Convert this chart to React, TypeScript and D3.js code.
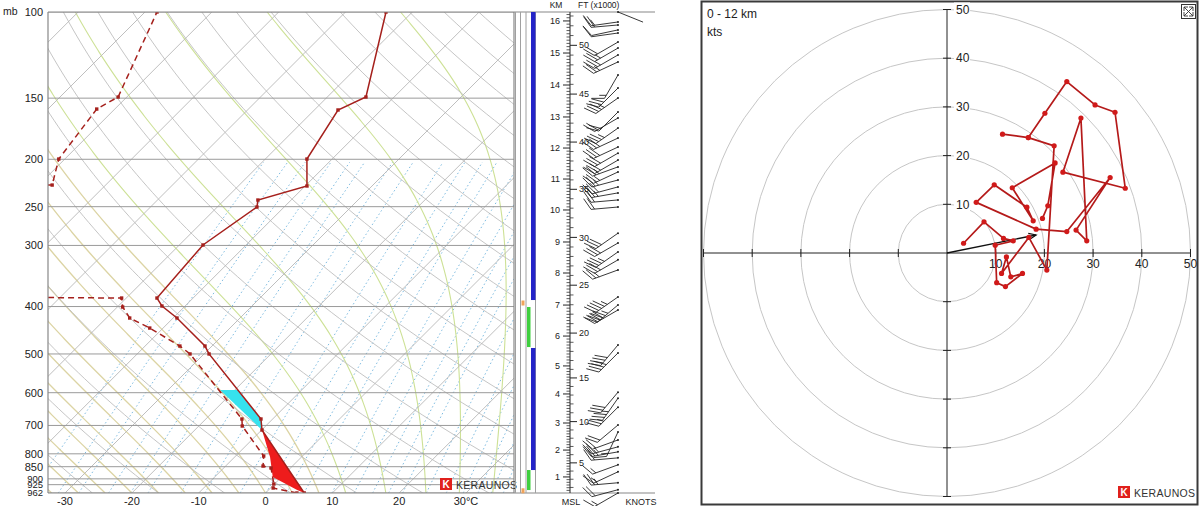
import React from 'react';
import * as d3 from 'd3';

const SVG_W = 1200, SVG_H = 506;

// ================= DATA =================
// Skew-T axes
const pressureLevels = [100, 150, 200, 250, 300, 400, 500, 600, 700, 800, 850, 900, 925, 962];
const tempTickValues = [-30, -20, -10, 0, 10, 20, 30];

// Environmental temperature profile (mb, °C)
const tempPressure = [962, 715.2, 679.1, 500, 481.7, 422.2, 399.0, 384.3, 299.4, 250.4, 242.3, 226.8, 199.8, 158.6, 149.2, 100];
const tempValues = [5.8, -9.95, -11.75, -29.25, -31.05, -39.43, -43.47, -45.41, -46.46, -44.07, -44.97, -39.73, -43.77, -46.46, -44.22, -53.94];

// Dewpoint profile (mb, °C)
const dewPressure = [962, 939.7, 922.2, 855.4, 847.4, 808.4, 701.9, 679.1, 500, 481.7, 442.6, 422.2, 400.9, 384.3, 381.0, 229.0, 225.8, 199.8, 157.9, 149.2, 100];
const dewValues = [4.7, 0.4, -0.1, -2.9, -4.4, -5.8, -13.5, -14.6, -32.1, -34.8, -42.0, -46.5, -49.2, -50.7, -95, -105, -78.0, -80.9, -82.7, -81.3, -88.2];

// Lower edge of shaded areas (mb, °C)
const parcelPressure = [962, 948.7, 892.4, 812.2, 715.2, 592.5];
const parcelValues = [5.8, 4.3, -1.3, -4.7, -9.95, -22.2];

// Side strip layers (mb ranges)
const blueLayers = [[100, 387.9], [486.2, 863.4]];
const greenLayers = [[400.9, 484.0], [863.4, 948.7]];
const orangeMarks = [393.4, 952];

// Height axis: km -> pressure
const kmTicks = [1, 2, 3, 4, 5, 6, 7, 8, 9, 10, 11, 12, 13, 14, 15, 16];
const kmPressure = [892, 786, 692, 603.6, 529, 459.6, 397.2, 341.6, 295.2, 253.9, 219.5, 189.7, 163.9, 141.0, 121.3, 104.3];
const ftLabels = [5, 10, 15, 20, 25, 30, 35, 40, 45, 50];

// Wind barbs
const barbPressure = [100, 104.8, 106.3, 108.8, 110.4, 115.2, 118.5, 122.4, 126.5, 134.5, 143.0, 149.9, 160.1, 164.7, 172.7, 181.0, 188.8, 194.3, 200.8, 207.3, 212.3, 220.5, 227.8, 234.3, 242.2, 250.4, 283.2, 296.6, 309.3, 321.1, 336.7, 382.3, 397.0, 406.5, 479.2, 497.6, 598.5, 615.7, 642.2, 698.5, 721.8, 749.4, 774.2, 792.7, 815.4, 842.6, 870.7, 916.7, 947.2, 962];
const barbDir = [112, 262, 265, 258, 262, 240, 240, 240, 245, 210, 225, 235, 225, 240, 235, 245, 245, 240, 240, 250, 245, 255, 255, 260, 265, 265, 235, 240, 235, 240, 250, 235, 230, 240, 220, 225, 220, 215, 225, 230, 205, 250, 255, 260, 265, 250, 245, 265, 255, 240];
const barbSpeed = [2, 15, 20, 12, 10, 20, 25, 25, 25, 15, 30, 35, 20, 20, 35, 30, 30, 30, 30, 25, 25, 25, 30, 25, 20, 20, 30, 30, 35, 30, 25, 45, 45, 40, 40, 40, 30, 35, 25, 20, 15, 20, 25, 25, 20, 15, 15, 25, 20, 15];

// Hodograph (kts)
const hodoRings = [10, 20, 30, 40, 50];
const hodoU = [3.4, 7.6, 11.6, 13.6, 9.9, 10.2, 12.0, 15.5, 13.1, 12.2, 11.2, 16.8, 20.5, 22.0, 16.7, 11.4, 16.7, 20.1, 24.6, 30.4, 34.5, 36.6, 23.8, 27.5, 28.7, 26.5, 33.5, 24.6, 18.3, 6.0, 9.7, 16.4, 17.7, 13.4, 22.2, 20.7, 19.6];
const hodoV = [2.0, 6.4, 3.0, 2.5, 1.6, -6.1, -6.9, -4.2, -4.9, -0.8, -4.2, 3.2, -3.5, 22.0, 23.7, 24.4, 23.7, 28.7, 35.2, 30.4, 28.9, 13.3, 16.6, 27.7, 2.5, 4.7, 15.5, 4.4, 4.9, 10.4, 14.0, 9.4, 6.6, 13.4, 18.5, 9.7, 7.1];
const stormMotion = [18.3, 3.7];

// ================= HELPERS =================
const FONT = '"Liberation Sans", Arial, Helvetica, sans-serif';
const PX0 = 48, PX1 = 514, PY0 = 12, PY1 = 493;

const yS = d3.scaleLog().domain([100, 962]).range([PY0, PY1]);
const xS = d3.scaleLinear().domain([-30, 30]).range([65, 466]);
const skewX = (T: number, p: number) => xS(T) + (PY1 - yS(p));

const pSamples = d3.range(0, 81).map(i => 962 * Math.pow(100 / 962, i / 80));

function moistAdiabat(T0: number): [number, number][] {
  const f = (pp: number, TT: number) => {
    const Tc = TT - 273.15;
    const es = 6.112 * Math.exp(17.67 * Tc / (Tc + 243.5));
    const rs = 0.622 * es / (pp - es);
    return (287.04 * TT + 2.501e6 * rs) / (pp * (1005.7 + 2.501e6 * 2.501e6 * rs * 0.622 / (287.04 * TT * TT)));
  };
  const pts: [number, number][] = [];
  let T = T0 + 273.15;
  let p = 962;
  const n = 240;
  const ratio = Math.pow(100 / 962, 1 / n);
  pts.push([p, T0]);
  for (let i = 0; i < n; i++) {
    const pn = p * ratio;
    const dp = pn - p;
    const k1 = f(p, T);
    const k2 = f(p + dp / 2, T + k1 * dp / 2);
    T = T + k2 * dp;
    p = pn;
    pts.push([p, T - 273.15]);
  }
  return pts;
}

function mixingT(w: number, p: number) {
  const e = w * p / (622 + w);
  const l = Math.log(e / 6.112);
  return 243.5 * l / (17.67 - l);
}

function interpT(ps: number[], ts: number[], p: number) {
  for (let i = 0; i < ps.length - 1; i++) {
    const a = ps[i], b = ps[i + 1];
    if ((p <= a && p >= b) || (p >= a && p <= b)) {
      const f = (Math.log(p) - Math.log(a)) / (Math.log(b) - Math.log(a));
      return ts[i] + f * (ts[i + 1] - ts[i]);
    }
  }
  return ts[ts.length - 1];
}

const skewLine = d3.line<[number, number]>().x(d => skewX(d[1], d[0])).y(d => yS(d[0]));

function barbPath(x: number, y: number, dir: number, spd: number) {
  const Ls = 27, Lf = 13, Lh = 7, gap = 3.5;
  const a = dir * Math.PI / 180;
  const ux = Math.sin(a), uy = -Math.cos(a);
  const c = Math.cos(Math.PI / 3), s = Math.sin(Math.PI / 3);
  const fx = ux * c - uy * s, fy = ux * s + uy * c;
  let d = `M${x},${y}L${x + ux * Ls},${y + uy * Ls}`;
  let r = Math.round(spd / 5) * 5;
  let pos = Ls;
  const pen = Math.floor(r / 50); r -= pen * 50;
  const full = Math.floor(r / 10); r -= full * 10;
  const half = r >= 5;
  for (let i = 0; i < pen; i++) {
    const bx = x + ux * pos, by = y + uy * pos;
    const cx = x + ux * (pos - 5), cy = y + uy * (pos - 5);
    d += `M${bx},${by}L${bx + fx * Lf},${by + fy * Lf}L${cx},${cy}Z`;
    pos -= 7;
  }
  for (let i = 0; i < full; i++) {
    const bx = x + ux * pos, by = y + uy * pos;
    d += `M${bx},${by}l${fx * Lf},${fy * Lf}`;
    pos -= gap;
  }
  if (half) {
    if (pen + full === 0) pos -= gap;
    const bx = x + ux * pos, by = y + uy * pos;
    d += `M${bx},${by}l${fx * Lh},${fy * Lh}`;
  }
  return d;
}

// ================= COMPONENT =================
export default function App() {
  const tempPts: [number, number][] = tempPressure.map((p, i) => [p, tempValues[i]]);
  const dewPts: [number, number][] = dewPressure.map((p, i) => [p, dewValues[i]]);
  const parcelPts: [number, number][] = parcelPressure.map((p, i) => [p, parcelValues[i]]);

  // shaded polygons
  const joinP = 715.2;
  const redEnv = tempPts.filter(d => d[0] >= joinP);
  const redPar = parcelPts.filter(d => d[0] >= joinP).slice().reverse();
  const redPoly = [...redEnv, ...redPar];
  const topP = parcelPressure[parcelPressure.length - 1];
  const cyanEnv: [number, number][] = [[joinP, interpT(tempPressure, tempValues, joinP)], ...tempPts.filter(d => d[0] < joinP && d[0] > topP), [topP, interpT(tempPressure, tempValues, topP)]];
  const cyanPar = parcelPts.filter(d => d[0] <= joinP).slice().reverse();
  const cyanPoly = [...cyanEnv, ...cyanPar];
  const polyStr = (pts: [number, number][]) => pts.map(d => `${skewX(d[1], d[0])},${yS(d[0])}`).join(' ');

  // grid lines
  const isotherms = d3.range(-170, 41, 10);
  const dryThetas = d3.range(230, 491, 10);
  const tanMoist = d3.range(-40, 9, 4);
  const greenMoist = [12, 18, 24, 29, 34];
  const mixRatios = [0.2, 0.3, 0.4, 0.6, 0.8, 1, 1.5, 2, 3, 4, 5, 6, 8, 10, 12, 14, 16, 20, 24, 28, 32, 36, 40];
  const mixP = pSamples.filter(p => p >= 199.9);

  // height scale
  const kmY = kmPressure.map(p => yS(p));
  const kmScale = d3.scaleLinear().domain(kmTicks).range(kmY);
  const minorKm = d3.range(0, 170).map(i => i / 10).filter(k => { const y = kmScale(k); return y >= PY0 && y <= PY1 && Math.abs(k - Math.round(k)) > 0.01; });
  const minorFt = d3.range(1, 56).filter(v => v % 5 !== 0).filter(v => { const y = kmScale(v * 0.3048); return y >= PY0 && y <= PY1; });

  // hodograph
  const HX = 947, HY = 253;
  const rS = d3.scaleLinear().domain([0, 50]).range([0, 243.5]);
  const hx = (u: number) => HX + rS(u);
  const hy = (v: number) => HY - rS(v);
  const hodoPts = hodoU.map((u, i) => [hx(u), hy(hodoV[i])] as [number, number]);
  const hodoLine = d3.line<[number, number]>()(hodoPts) || '';
  const tickKts = [-50, -40, -30, -20, -10, 10, 20, 30, 40, 50];

  // arrow
  const ax = hx(stormMotion[0]), ay = hy(stormMotion[1]);
  const ang = Math.atan2(ay - HY, ax - HX);
  const ah1 = [ax - 8 * Math.cos(ang - 0.4), ay - 8 * Math.sin(ang - 0.4)];
  const ah2 = [ax - 8 * Math.cos(ang + 0.4), ay - 8 * Math.sin(ang + 0.4)];

  const BX = 618;
  const smallLabel = (p: number) => p >= 900;

  return (
    <svg width={SVG_W} height={SVG_H} style={{ position: 'absolute', left: 0, top: 0, display: 'block', background: '#fff' }} fontFamily={FONT}>
      <defs>
        <clipPath id="plot"><rect x={PX0} y={PY0} width={PX1 - PX0} height={PY1 - PY0} /></clipPath>
      </defs>
      <rect x={0} y={0} width={SVG_W} height={SVG_H} fill="#fff" />

      {/* ---------- Skew-T ---------- */}
      <g clipPath="url(#plot)">
        {mixRatios.map(w => (
          <path key={'w' + w} d={skewLine(mixP.map(p => [p, mixingT(w, p)] as [number, number])) || ''} fill="none" stroke="#6fb3dc" strokeWidth={0.9} strokeDasharray="1.5,2.5" />
        ))}
        {tanMoist.map(t => (
          <path key={'m' + t} d={skewLine(moistAdiabat(t)) || ''} fill="none" stroke="#dcd4a4" strokeWidth={1.3} />
        ))}
        {greenMoist.map(t => (
          <path key={'g' + t} d={skewLine(moistAdiabat(t)) || ''} fill="none" stroke="#cde196" strokeWidth={1.1} />
        ))}
        {dryThetas.map(th => (
          <path key={'d' + th} d={skewLine(pSamples.map(p => [p, th * Math.pow(p / 1000, 0.2857) - 273.15] as [number, number])) || ''} fill="none" stroke="#bebebe" strokeWidth={0.9} />
        ))}
        {isotherms.map(t => (
          <line key={'i' + t} x1={skewX(t, 962)} y1={yS(962)} x2={skewX(t, 100)} y2={yS(100)} stroke="#b8b8b8" strokeWidth={0.9} />
        ))}
        {pressureLevels.map(p => (
          <line key={'p' + p} x1={PX0} x2={PX1} y1={yS(p)} y2={yS(p)} stroke="#9a9a9a" strokeWidth={1} />
        ))}
        <polygon points={polyStr(redPoly)} fill="#ee1c1c" stroke="none" />
        <polygon points={polyStr(cyanPoly)} fill="#36e2ee" stroke="none" />
        <path d={skewLine(tempPts) || ''} fill="none" stroke="#a5201c" strokeWidth={1.5} />
        {tempPts.map((d, i) => (
          <rect key={'td' + i} x={skewX(d[1], d[0]) - 1.7} y={yS(d[0]) - 1.7} width={3.4} height={3.4} fill="#a5201c" />
        ))}
        <path d={skewLine(dewPts) || ''} fill="none" stroke="#a5201c" strokeWidth={1.5} strokeDasharray="6,4" />
        {dewPts.map((d, i) => (
          <rect key={'dd' + i} x={skewX(d[1], d[0]) - 1.7} y={yS(d[0]) - 1.7} width={3.4} height={3.4} fill="#a5201c" />
        ))}
      </g>

      {/* frame */}
      <line x1={PX0} x2={655} y1={PY0} y2={PY0} stroke="#888" strokeWidth={1.2} />
      <line x1={PX0} x2={655} y1={PY1} y2={PY1} stroke="#888" strokeWidth={1.2} />
      <line x1={PX0} x2={PX0} y1={PY0} y2={PY1} stroke="#888" strokeWidth={1.2} />
      <line x1={PX1} x2={PX1} y1={PY0} y2={PY1} stroke="#888" strokeWidth={1.2} />

      <text x={3} y={15} fontSize={10.5} fill="#222">mb</text>
      {pressureLevels.map(p => (
        <text key={'pl' + p} x={43} y={yS(p)} dy="0.35em" fontSize={smallLabel(p) ? 9.5 : 11} textAnchor="end" fill="#222">{p}</text>
      ))}
      {tempTickValues.map(t => (
        <text key={'tl' + t} x={xS(t)} y={505} fontSize={11} textAnchor="middle" fill="#222">{t === 30 ? '30°C' : String(t)}</text>
      ))}

      <rect x={440} y={478} width={12} height={12} fill="#e0201c" />
      <text x={446} y={488} fontSize={10} fontWeight="bold" textAnchor="middle" fill="#fff">K</text>
      <text x={456} y={489} fontSize={10.5} fill="#333" letterSpacing={0.3}>KERAUNOS</text>

      {/* side strip */}
      {[515.5, 520.5, 526, 535.5].map(x => (
        <line key={'sl' + x} x1={x} x2={x} y1={PY0} y2={PY1} stroke="#a0a0a0" strokeWidth={1} />
      ))}
      {blueLayers.map((l, i) => (
        <rect key={'bl' + i} x={531} y={yS(l[0])} width={4.5} height={yS(l[1]) - yS(l[0])} fill="#2424c8" />
      ))}
      {greenLayers.map((l, i) => (
        <rect key={'gl' + i} x={527} y={yS(l[0])} width={3.5} height={yS(l[1]) - yS(l[0])} fill="#3fcf3f" />
      ))}
      {orangeMarks.map((p, i) => (
        <rect key={'om' + i} x={521.5} y={yS(p) - 2.5} width={3} height={5} fill="#f0a35a" />
      ))}

      {/* height axis */}
      <line x1={570} x2={570} y1={PY0} y2={PY1} stroke="#222" strokeWidth={1} />
      <text x={556} y={8} fontSize={8.5} textAnchor="middle" fill="#222">KM</text>
      <text x={578} y={8} fontSize={8.5} fill="#222">FT (x1000)</text>
      {kmTicks.map(k => (
        <g key={'km' + k}>
          <line x1={563} x2={570} y1={kmScale(k)} y2={kmScale(k)} stroke="#222" />
          <text x={560} y={kmScale(k)} dy="0.35em" fontSize={9} textAnchor="end" fill="#222">{k}</text>
        </g>
      ))}
      {minorKm.map(k => (
        <line key={'mk' + k} x1={566.5} x2={570} y1={kmScale(k)} y2={kmScale(k)} stroke="#333" strokeWidth={0.8} />
      ))}
      {minorFt.map(v => (
        <line key={'mf' + v} x1={570} x2={573.5} y1={kmScale(v * 0.3048)} y2={kmScale(v * 0.3048)} stroke="#333" strokeWidth={0.8} />
      ))}
      {ftLabels.map(v => (
        <g key={'ft' + v}>
          <line x1={570} x2={577} y1={kmScale(v * 0.3048)} y2={kmScale(v * 0.3048)} stroke="#222" />
          <text x={579} y={kmScale(v * 0.3048)} dy="0.35em" fontSize={9} fill="#222">{v}</text>
        </g>
      ))}
      <text x={571} y={505} fontSize={9} textAnchor="middle" fill="#222">MSL</text>
      <text x={641} y={505} fontSize={9} textAnchor="middle" fill="#222">KNOTS</text>

      {/* wind barbs */}
      <g stroke="#222" strokeWidth={0.9} fill="#222">
        {barbPressure.map((p, i) => (
          <g key={'b' + i}>
            <path d={barbPath(BX, yS(p), barbDir[i], barbSpeed[i])} />
            <circle cx={BX} cy={yS(p)} r={1} stroke="none" />
          </g>
        ))}
      </g>

      {/* ---------- Hodograph ---------- */}
      <rect x={701.5} y={1.5} width={496} height={503} fill="#fff" stroke="#3a3a3a" strokeWidth={2} />
      {hodoRings.map(r => (
        <circle key={'r' + r} cx={HX} cy={HY} r={rS(r)} fill="none" stroke="#c6c6c6" strokeWidth={1} />
      ))}
      <line x1={hx(-50)} x2={hx(50)} y1={HY} y2={HY} stroke="#222" strokeWidth={1} />
      <line x1={HX} x2={HX} y1={hy(50)} y2={hy(-50)} stroke="#222" strokeWidth={1} />
      {tickKts.map(k => (
        <g key={'tk' + k}>
          <line x1={hx(k)} x2={hx(k)} y1={HY - 4} y2={HY + 4} stroke="#222" />
          <line x1={HX - 4} x2={HX + 4} y1={hy(k)} y2={hy(k)} stroke="#222" />
        </g>
      ))}
      {hodoRings.map(r => (
        <g key={'yl' + r}>
          <rect x={HX + 7} y={hy(r) - 7} width={16} height={14} fill="#fff" />
          <text x={HX + 9} y={hy(r)} dy="0.35em" fontSize={12} fill="#222">{r}</text>
        </g>
      ))}
      {hodoRings.map(r => (
        <text key={'xl' + r} x={hx(r)} y={HY + 15} fontSize={12} textAnchor="middle" fill="#222">{r}</text>
      ))}
      <text x={707} y={18} fontSize={12} fill="#222">0 - 12 km</text>
      <text x={707} y={36} fontSize={12} fill="#222">kts</text>

      <line x1={HX} y1={HY} x2={ax} y2={ay} stroke="#111" strokeWidth={1.4} />
      <path d={`M${ah1[0]},${ah1[1]}L${ax},${ay}L${ah2[0]},${ah2[1]}`} fill="none" stroke="#111" strokeWidth={1.2} />

      <path d={hodoLine} fill="none" stroke="#b51a1a" strokeWidth={1.7} strokeLinejoin="round" />
      {hodoPts.map((d, i) => (
        <circle key={'hp' + i} cx={d[0]} cy={d[1]} r={2.6} fill="#d01a1a" />
      ))}

      <rect x={1181.5} y={4.5} width={14} height={14} fill="#fff" stroke="#333" strokeWidth={1} />
      <path d="M1184,16 L1193,7 M1184,16 l0,-4 M1184,16 l4,0 M1193,7 l-4,0 M1193,7 l0,4 M1184,7 L1193,16 M1184,7 l4,0 M1184,7 l0,4 M1193,16 l-4,0 M1193,16 l0,-4" stroke="#333" strokeWidth={0.9} fill="none" />

      <rect x={1118} y={486} width={12} height={12} fill="#e0201c" />
      <text x={1124} y={496} fontSize={10} fontWeight="bold" textAnchor="middle" fill="#fff">K</text>
      <text x={1134} y={497} fontSize={10.5} fill="#333" letterSpacing={0.3}>KERAUNOS</text>
    </svg>
  );
}
